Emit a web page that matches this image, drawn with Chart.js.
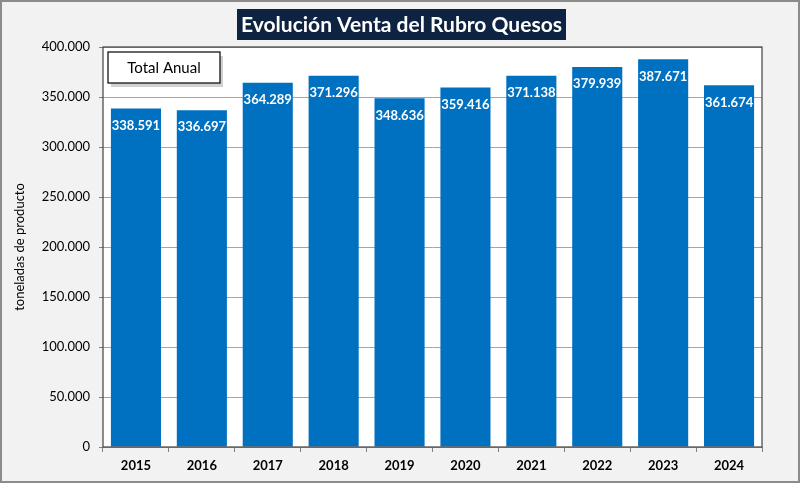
<!DOCTYPE html>
<html><head><meta charset="utf-8">
<script src="https://cdn.jsdelivr.net/npm/chart.js@4"></script>
<style>html,body{margin:0;padding:0;background:#f2f2f2;}#wrap{width:800px;height:483px;position:relative;}</style>
</head><body><div id="wrap"><canvas id="c" width="800" height="483"></canvas></div>
<script>
const categories = ["2015","2016","2017","2018","2019","2020","2021","2022","2023","2024"];
const values = [338591,336697,364289,371296,348636,359416,371138,379939,387671,361674];
const yTicks = [0,50000,100000,150000,200000,250000,300000,350000,400000];
const titleText = "Evolución Venta del Rubro Quesos";
const seriesName = "Total Anual";
const yTitle = "toneladas de producto";

function fmt(v){return v.toString().replace(/\B(?=(\d{3})+(?!\d))/g,".");}

const FONT = "Lato, 'Noto Sans', sans-serif";

const bgPlugin = {
  id:'bg',
  beforeDraw(chart){
    const {ctx, chartArea:a} = chart;
    ctx.save();
    ctx.fillStyle='#f2f2f2';ctx.fillRect(0,0,chart.width,chart.height);
    ctx.strokeStyle='#8c8c8c';ctx.lineWidth=2;ctx.strokeRect(1,1,chart.width-2,chart.height-2);
    ctx.fillStyle='#ffffff';ctx.fillRect(a.left,a.top,a.right-a.left,a.bottom-a.top);
    ctx.restore();
  },
  afterDraw(chart){
    const {ctx, chartArea:a} = chart;
    ctx.save();
    ctx.strokeStyle='#404040';ctx.lineWidth=1.2;
    ctx.strokeRect(a.left,a.top,a.right-a.left,a.bottom-a.top);
    // title box
    ctx.fillStyle='#0e2341';ctx.fillRect(237,9,329,31);
    ctx.fillStyle='#ffffff';ctx.font="bold 21px "+FONT;ctx.textAlign='center';ctx.textBaseline='middle';
    ctx.fillText(titleText,401.5,25);
    // legend box
    ctx.fillStyle='rgba(0,0,0,0.18)';ctx.fillRect(111,56,112,31);
    ctx.fillStyle='#ffffff';ctx.fillRect(108,52,112,31);
    ctx.strokeStyle='#000';ctx.lineWidth=1.2;ctx.strokeRect(108,52,112,31);
    ctx.fillStyle='#000';ctx.font="15px "+FONT;ctx.fillText(seriesName,164,68);
    // data labels
    const meta=chart.getDatasetMeta(0);
    ctx.fillStyle='#ffffff';ctx.font="bold 13px "+FONT;
    meta.data.forEach((b,i)=>{ctx.fillText(fmt(values[i]),b.x,b.y+17);});
    ctx.restore();
  }
};

new Chart(document.getElementById('c'),{
  type:'bar',
  data:{labels:categories,datasets:[{label:seriesName,data:values,backgroundColor:'#0070c0',borderWidth:0,barPercentage:0.76,categoryPercentage:1}]},
  options:{
    responsive:false,animation:false,
    layout:{padding:{left:0,right:38,top:47,bottom:0}},
    plugins:{legend:{display:false},title:{display:false},tooltip:{enabled:false}},
    scales:{
      x:{
        grid:{offset:true,drawOnChartArea:false,drawTicks:true,tickLength:5,color:'#808080'},
        border:{display:false},
        ticks:{color:'#000',font:{family:FONT,size:13,weight:'bold'},padding:6},
        afterFit(s){s.height=36;}
      },
      y:{
        min:0,max:400000,
        afterBuildTicks(s){s.ticks=yTicks.map(v=>({value:v}));},
        grid:{color:'#a6a6a6',borderDash:[6,4],drawTicks:true,tickLength:4,tickColor:'#808080',tickBorderDash:[]},
        border:{display:false},
        ticks:{color:'#000',font:{family:FONT,size:13},callback:v=>fmt(v),padding:9},
        title:{display:true,text:yTitle,color:'#000',font:{family:FONT,size:13},padding:{top:12,bottom:0}},
        afterFit(s){s.width=103;}
      }
    }
  },
  plugins:[bgPlugin]
});
</script></body></html>
